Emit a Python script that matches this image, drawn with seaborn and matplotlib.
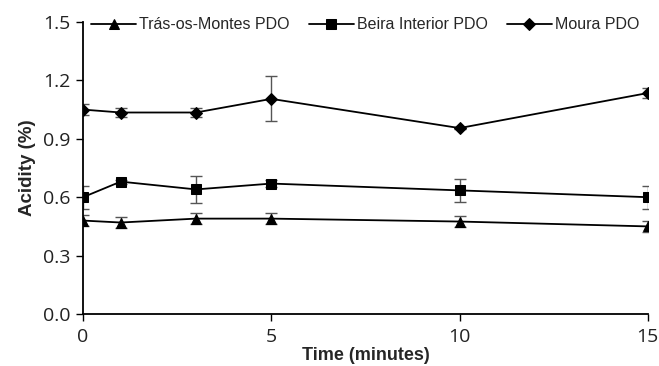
import matplotlib
matplotlib.use("Agg")
import matplotlib.pyplot as plt
import pandas as pd
import seaborn as sns

time_min = [0, 1, 3, 5, 10, 15]
series_names = ["Trás-os-Montes PDO", "Beira Interior PDO", "Moura PDO"]
tras_os_montes = [0.48, 0.47, 0.49, 0.49, 0.475, 0.45]
tras_os_montes_err = [0.03, 0.03, 0.03, 0.03, 0.03, 0.03]
beira_interior = [0.60, 0.68, 0.64, 0.67, 0.635, 0.60]
beira_interior_err = [0.06, 0.01, 0.07, 0.02, 0.06, 0.06]
moura = [1.05, 1.035, 1.035, 1.105, 0.955, 1.135]
moura_err = [0.03, 0.025, 0.025, 0.115, 0.005, 0.025]

df = pd.DataFrame({
    "time": time_min * 3,
    "acidity": tras_os_montes + beira_interior + moura,
    "err": tras_os_montes_err + beira_interior_err + moura_err,
    "series": [s for s in series_names for _ in time_min],
})

sns.set_style("white")
plt.rcParams["font.family"] = ["Liberation Sans", "DejaVu Sans"]

fig = plt.figure(figsize=(6.59, 3.66), dpi=100)
ax = fig.add_axes([0.126, 0.142, 0.857, 0.798])

markers = {"Trás-os-Montes PDO": "^", "Beira Interior PDO": "s", "Moura PDO": "D"}
sizes = {"Trás-os-Montes PDO": 7.5, "Beira Interior PDO": 7.5, "Moura PDO": 6.5}

# error bars first, so markers sit on top
for name in series_names:
    sub = df[df["series"] == name]
    ax.errorbar(sub["time"], sub["acidity"], yerr=sub["err"], fmt="none",
                ecolor="#555555", elinewidth=1, capsize=4, capthick=1, zorder=2)

for name in series_names:
    sub = df[df["series"] == name]
    sns.lineplot(data=sub, x="time", y="acidity", ax=ax, color="black",
                 marker=markers[name], markersize=sizes[name], linewidth=1.3,
                 markeredgecolor="black", label=name, zorder=3)

ax.set_xlim(0, 15)
ax.set_ylim(0, 1.5)
ax.set_xticks([0, 5, 10, 15])
ax.set_yticks([0.0, 0.3, 0.6, 0.9, 1.2, 1.5])
ax.set_yticklabels([f"{v:.1f}" for v in [0.0, 0.3, 0.6, 0.9, 1.2, 1.5]])
for s in ["top", "right"]:
    ax.spines[s].set_visible(False)
for s in ["left", "bottom"]:
    ax.spines[s].set_color("black")
    ax.spines[s].set_linewidth(1.3)
ax.tick_params(axis="both", direction="out", length=5, width=1, color="black",
               labelsize=14, labelcolor="#222222", bottom=True, left=True)
ax.tick_params(axis="x", pad=5)
ax.tick_params(axis="y", pad=4)
for lbl in ax.get_xticklabels() + ax.get_yticklabels():
    lbl.set_family(["Open Sans", "DejaVu Sans"])
ax.set_xlabel("Time (minutes)", fontsize=13, fontweight="bold", labelpad=1)
ax.set_ylabel("Acidity (%)", fontsize=13.5, fontweight="bold", labelpad=5)

ax.legend(loc="upper center", bbox_to_anchor=(0.5, 1.065), ncol=3, frameon=False,
          fontsize=11.5, handlelength=2.8, columnspacing=1.2, handletextpad=0.2)

fig.savefig("out.png", dpi=100)
